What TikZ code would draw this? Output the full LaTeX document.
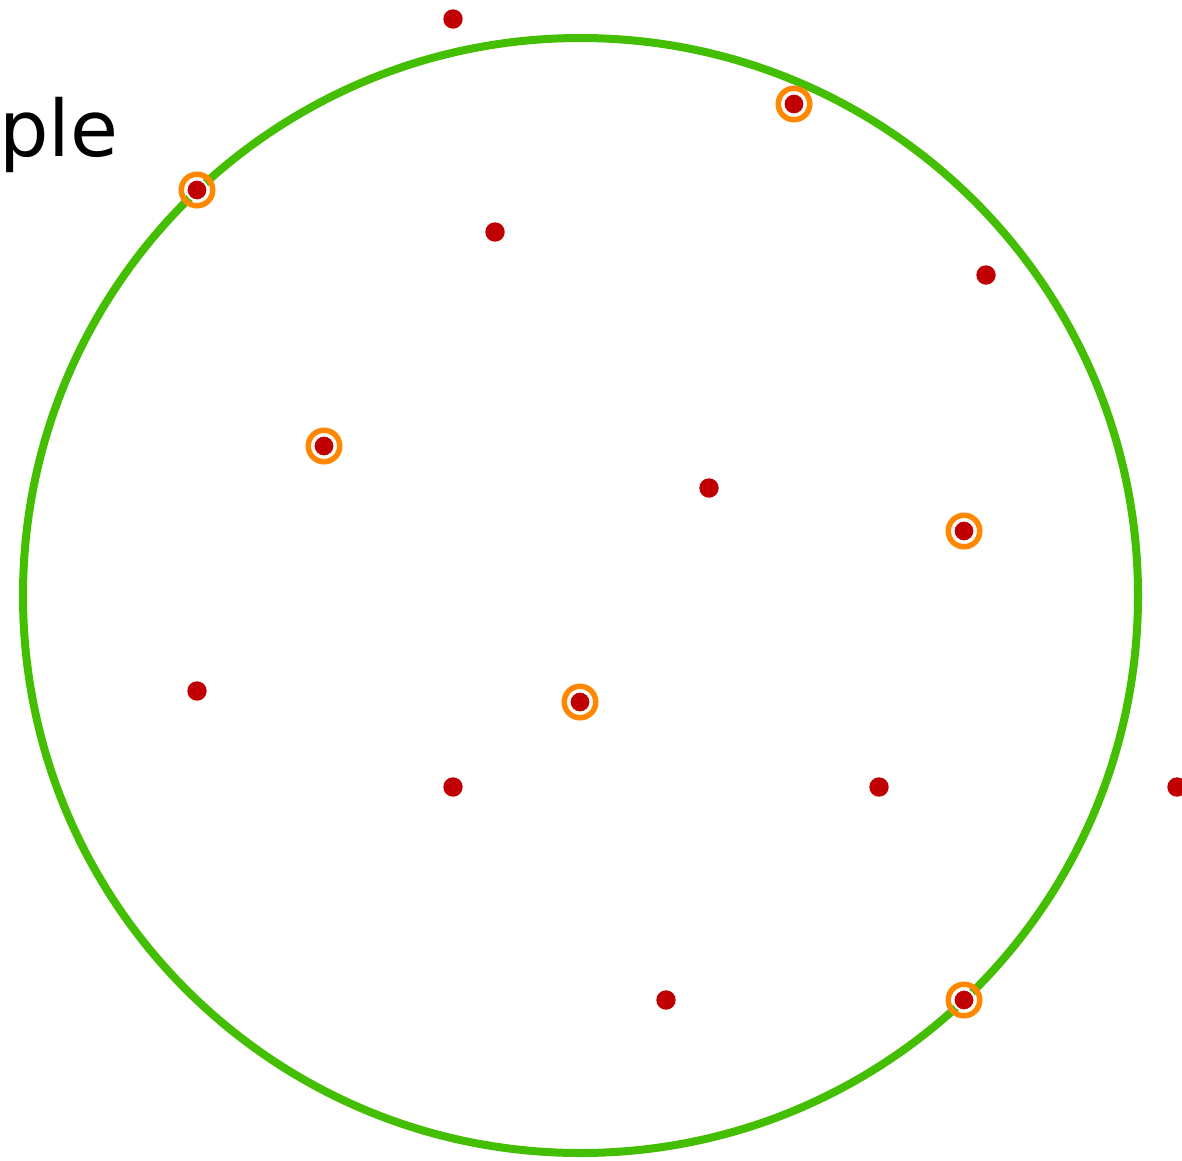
\documentclass[tikz,border=0pt]{standalone}
\usepackage{fontspec}
\setmainfont{DejaVu Sans}
\usetikzlibrary{positioning}
\definecolor{pointred}{RGB}{192, 0, 0}
\definecolor{ringorange}{RGB}{255, 136, 0}
\definecolor{circlegreen}{RGB}{68, 190, 0}
\tikzset{
  dot/.style={circle, fill=pointred, inner sep=0pt, minimum size=19.4pt},
  picked/.style={circle, fill=pointred, draw=white, line width=2pt, inner sep=0pt, minimum size=21pt},
  ring/.style={circle, draw=ringorange, line width=5.5pt, inner sep=0pt, minimum size=31.5pt},
}
\begin{document}
\begin{tikzpicture}[x=1pt, y=-1pt]
\useasboundingbox (0,0) rectangle (1182,1160);

\draw[circlegreen, line width=8pt] (580.5,595.5) circle (557.5pt);

\node[anchor=base west, inner sep=0pt, font=\fontsize{78}{94}\selectfont] (label) at (-1,156) {ple};

\node[dot] (p1) at (453,19) {};
\node[dot] (p2) at (495,232) {};
\node[dot] (p3) at (986,275) {};
\node[dot] (p4) at (709,488) {};
\node[dot] (p5) at (197,691) {};
\node[dot] (p6) at (453,787) {};
\node[dot] (p7) at (879,787) {};
\node[dot] (p8) at (1177,787) {};
\node[dot] (p9) at (666,1000) {};

\node[ring] (r1) at (794,104) {};
\node[ring] (r2) at (197,190) {};
\node[ring] (r3) at (324,446) {};
\node[ring] (r4) at (964,531) {};
\node[ring] (r5) at (580,702) {};
\node[ring] (r6) at (964,1000) {};

\node[picked] (s1) at (r1) {};
\node[picked] (s2) at (r2) {};
\node[picked] (s3) at (r3) {};
\node[picked] (s4) at (r4) {};
\node[picked] (s5) at (r5) {};
\node[picked] (s6) at (r6) {};

\end{tikzpicture}
\end{document}
